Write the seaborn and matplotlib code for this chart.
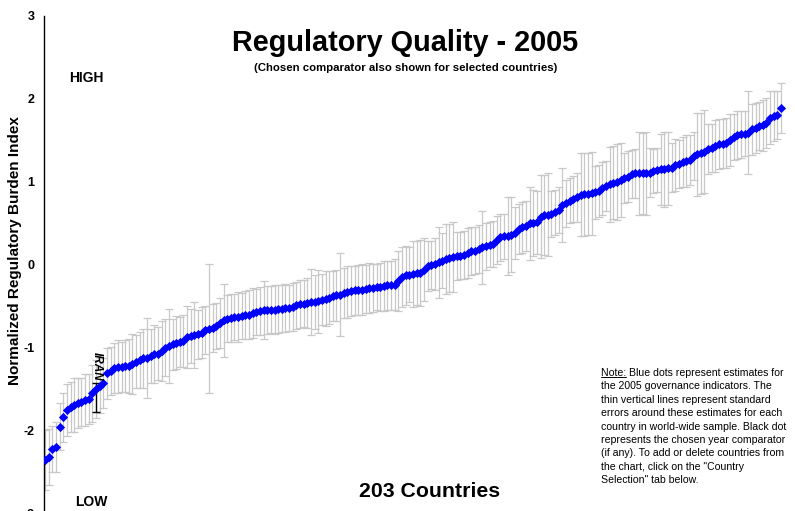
import numpy as np
import pandas as pd
import seaborn as sns
import matplotlib.pyplot as plt
from matplotlib import font_manager
from matplotlib.lines import Line2D

# governance estimate per country, sorted low -> high (203 countries)
scores = [
    -2.35, -2.32, -2.22, -2.20, -1.95, -1.84, -1.75, -1.71, -1.69, -1.67,
    -1.65, -1.63, -1.62, -1.55, -1.50, -1.46, -1.43, -1.31, -1.28, -1.24,
    -1.23, -1.23, -1.22, -1.22, -1.20, -1.17, -1.15, -1.13, -1.12, -1.10,
    -1.08, -1.07, -1.04, -1.00, -0.98, -0.96, -0.94, -0.93, -0.92, -0.87,
    -0.86, -0.85, -0.84, -0.82, -0.79, -0.77, -0.76, -0.74, -0.70, -0.67,
    -0.65, -0.64, -0.63, -0.63, -0.62, -0.61, -0.60, -0.58, -0.57, -0.56,
    -0.55, -0.55, -0.54, -0.54, -0.53, -0.53, -0.52, -0.52, -0.51, -0.49,
    -0.47, -0.47, -0.46, -0.45, -0.45, -0.44, -0.42, -0.41, -0.40, -0.38,
    -0.37, -0.36, -0.34, -0.33, -0.32, -0.31, -0.30, -0.30, -0.29, -0.28,
    -0.28, -0.27, -0.27, -0.26, -0.25, -0.25, -0.24, -0.20, -0.15, -0.13,
    -0.12, -0.11, -0.10, -0.10, -0.06, -0.02, 0.00, 0.01, 0.03, 0.05,
    0.07, 0.08, 0.09, 0.10, 0.11, 0.12, 0.14, 0.16, 0.17, 0.19,
    0.21, 0.22, 0.24, 0.25, 0.30, 0.33, 0.34, 0.35, 0.36, 0.38,
    0.43, 0.45, 0.47, 0.50, 0.50, 0.51, 0.58, 0.60, 0.60, 0.61,
    0.63, 0.66, 0.72, 0.74, 0.77, 0.79, 0.81, 0.84, 0.85, 0.85,
    0.86, 0.87, 0.89, 0.92, 0.95, 0.97, 0.99, 1.00, 1.02, 1.04,
    1.06, 1.09, 1.10, 1.10, 1.10, 1.10, 1.11, 1.13, 1.14, 1.15,
    1.15, 1.16, 1.17, 1.20, 1.21, 1.24, 1.25, 1.26, 1.31, 1.33,
    1.34, 1.36, 1.39, 1.41, 1.43, 1.45, 1.46, 1.47, 1.50, 1.54,
    1.56, 1.57, 1.58, 1.59, 1.63, 1.65, 1.67, 1.68, 1.71, 1.77,
    1.79, 1.80, 1.89,
]

# half length of the grey standard error bars
std_err = [
    0.36, 0.34, 0.28, 0.30, 0.28, 0.30, 0.31, 0.30, 0.32, 0.30,
    0.29, 0.31, 0.30, 0.34, 0.35, 0.33, 0.30, 0.31, 0.29, 0.30,
    0.32, 0.30, 0.31, 0.33, 0.36, 0.32, 0.34, 0.35, 0.48, 0.33,
    0.35, 0.32, 0.36, 0.34, 0.45, 0.31, 0.32, 0.30, 0.31, 0.37,
    0.33, 0.40, 0.30, 0.31, 0.29, 0.78, 0.29, 0.28, 0.30, 0.44,
    0.28, 0.29, 0.28, 0.30, 0.28, 0.29, 0.29, 0.30, 0.28, 0.29,
    0.35, 0.29, 0.28, 0.30, 0.29, 0.28, 0.29, 0.28, 0.29, 0.28,
    0.29, 0.28, 0.30, 0.40, 0.32, 0.38, 0.31, 0.33, 0.32, 0.30,
    0.31, 0.50, 0.30, 0.31, 0.30, 0.29, 0.30, 0.31, 0.29, 0.30,
    0.29, 0.28, 0.29, 0.30, 0.29, 0.30, 0.31, 0.36, 0.36, 0.35,
    0.33, 0.40, 0.39, 0.40, 0.38, 0.30, 0.29, 0.31, 0.43, 0.33,
    0.42, 0.41, 0.42, 0.29, 0.28, 0.29, 0.30, 0.29, 0.28, 0.29,
    0.44, 0.28, 0.27, 0.28, 0.29, 0.28, 0.27, 0.47, 0.45, 0.31,
    0.30, 0.31, 0.30, 0.44, 0.40, 0.38, 0.50, 0.48, 0.50, 0.28,
    0.27, 0.28, 0.45, 0.28, 0.27, 0.28, 0.29, 0.50, 0.50, 0.49,
    0.50, 0.32, 0.31, 0.32, 0.30, 0.45, 0.44, 0.46, 0.45, 0.30,
    0.31, 0.29, 0.30, 0.50, 0.49, 0.50, 0.30, 0.27, 0.27, 0.43,
    0.45, 0.44, 0.30, 0.31, 0.29, 0.30, 0.31, 0.30, 0.29, 0.50,
    0.49, 0.50, 0.30, 0.29, 0.31, 0.30, 0.29, 0.30, 0.31, 0.28,
    0.29, 0.28, 0.27, 0.50, 0.31, 0.30, 0.29, 0.31, 0.30, 0.32,
    0.30, 0.29, 0.30,
]

# selected country with comparator bar
iran_rank = 14
iran_comp = -1.60
iran_comp_err = 0.18

yticks = [-3, -2, -1, 0, 1, 2, 3]

note_lines = [
    'Note: Blue dots represent estimates for',
    'the 2005 governance indicators. The',
    'thin vertical lines represent standard',
    'errors around these estimates for each',
    'country in world-wide sample. Black dot',
    'represents the chosen year comparator',
    '(if any). To add or delete countries from',
    'the chart, click on the "Country',
    'Selection" tab below.',
]

# pick a sans family that actually has a bold face installed
bold_fams = {f.name for f in font_manager.fontManager.ttflist
             if f.weight in ('bold', 700)}
family = 'DejaVu Sans'
for cand in ['Liberation Sans', 'Arimo', 'Roboto', 'Noto Sans', 'Open Sans']:
    if cand in bold_fams:
        family = cand
        break

sns.set_style('white')
plt.rcParams['font.family'] = [family, 'DejaVu Sans']
plt.rcParams['axes.unicode_minus'] = False
plt.rcParams['text.color'] = 'black'
plt.rcParams['ytick.color'] = 'black'
plt.rcParams['axes.labelcolor'] = 'black'

df = pd.DataFrame({'rank': np.arange(len(scores)), 'score': scores, 'err': std_err})

W, H = 795, 511


def px(x, y):
    return x / W, 1 - y / H


fig = plt.figure(figsize=(W / 100, H / 100), dpi=100)
ax = fig.add_axes([44 / W, 1 - 513.7 / H, 751 / W, 498 / H])

ax.errorbar(df['rank'], df['score'], yerr=df['err'], fmt='none', ecolor='#c8c8c8',
            elinewidth=0.9, capsize=3, capthick=0.9, zorder=1)
ax.errorbar([iran_rank], [iran_comp], yerr=[iran_comp_err], fmt='none', ecolor='black',
            elinewidth=1, capsize=3, capthick=1, zorder=2)
sns.scatterplot(data=df, x='rank', y='score', marker='D', color='#0000ff', s=22,
                linewidth=0, ax=ax, zorder=3)

ax.text(iran_rank + 0.2, -1.22, 'IRAN', rotation=270, ha='center', va='center',
        fontsize=8.5, fontweight='bold', fontstyle='italic', zorder=4)

ax.set_xlim(-0.274, 205.84)
ax.set_ylim(-3, 3)
ax.set_xticks([])
ax.set_yticks(yticks)
ax.set_yticklabels([str(t) for t in yticks], fontsize=9, fontweight='bold', color='black')
ax.tick_params(axis='y', direction='out', length=4, width=1, color='black', pad=3)
ax.set_xlabel('')
ax.set_ylabel('')
for s in ['top', 'right', 'bottom']:
    ax.spines[s].set_visible(False)
ax.spines['left'].set_color('black')
ax.spines['left'].set_linewidth(1)

fig.text(*px(15.5, 251), 'Normalized Regulatory Burden Index', rotation=90,
         ha='center', va='center', fontsize=11, fontweight='bold')
fig.text(*px(405, 43), 'Regulatory Quality - 2005', ha='center', va='center',
         fontsize=20.8, fontweight='bold')
fig.text(*px(406, 68), '(Chosen comparator also shown for selected countries)',
         ha='center', va='center', fontsize=8.2, fontweight='bold')
fig.text(*px(86, 78), 'HIGH', ha='center', va='center', fontsize=10, fontweight='bold')
fig.text(*px(91, 502), 'LOW', ha='center', va='center', fontsize=10, fontweight='bold')
fig.text(*px(430, 491), '203 Countries', ha='center', va='center', fontsize=15.3,
         fontweight='bold')

note_x = 601
note_fs = 7.6
for k, line in enumerate(note_lines):
    fig.text(*px(note_x, 373 + 13.4 * k), line, ha='left', va='center', fontsize=note_fs)

# underline "Note:"
probe = fig.text(*px(note_x, 373), 'Note:', ha='left', va='center', fontsize=note_fs, alpha=0)
fig.canvas.draw()
bb = probe.get_window_extent()
uy = (bb.y0 + 1.5) / H
fig.add_artist(Line2D([bb.x0 / W, bb.x1 / W], [uy, uy], color='black', lw=0.7))

fig.savefig('out.png', dpi=100)
